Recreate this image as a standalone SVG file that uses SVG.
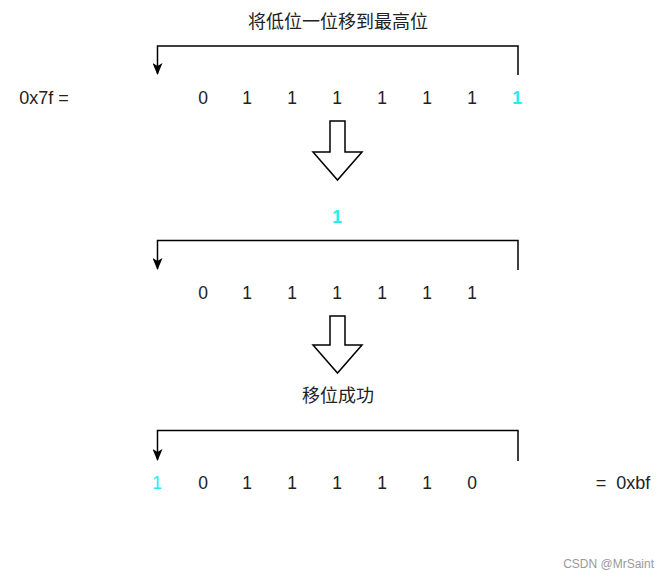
<svg xmlns="http://www.w3.org/2000/svg" width="669" height="579" viewBox="0 0 669 579">
<defs>
<marker id="arr" markerWidth="10" markerHeight="12" refX="5" refY="11" orient="0" markerUnits="userSpaceOnUse">
<path d="M0,0 L5,3 L10,0 L5,12 Z" fill="#000"/>
</marker>
<style>
text{font-family:"Liberation Sans","Noto Sans CJK SC",Arial,sans-serif;font-size:17.5px;fill:#222;text-anchor:middle;dominant-baseline:central}
.t{font-size:18px}
.c{fill:#22EEEE}
.b{font-weight:bold}
.conn{fill:none;stroke:#000;stroke-width:1.5}
.big{fill:#fff;stroke:#000;stroke-width:1.5;stroke-linejoin:miter}
.wm{font-size:12px;fill:#999;text-anchor:end}
</style>
</defs>
<rect width="669" height="579" fill="#fff"/>
<g id="connectors">
<path class="conn" d="M518,75 V46 H157.5 V74" marker-end="url(#arr)"/>
<path class="conn" d="M518,270 V240.5 H157.5 V269" marker-end="url(#arr)"/>
<path class="conn" d="M518,461 V430.5 H157.5 V460" marker-end="url(#arr)"/>
</g>
<g id="arrow1"><path class="big" d="M330,121 H345 V152 H362 L337.5,180 L313,152 H330 Z"/></g>
<g id="arrow2"><path class="big" d="M330,316 H345 V345 H362 L337.5,373 L313,345 H330 Z"/></g>
<g id="title1"><text class="t" x="338" y="22">将低位一位移到最高位</text></g>
<g id="label-0x7f"><text class="t" x="44" y="98">0x7f =</text></g>
<g id="row1">
<text x="203" y="98">0</text><text x="247" y="98">1</text><text x="292" y="98">1</text><text x="337" y="98">1</text><text x="382" y="98">1</text><text x="427" y="98">1</text><text x="472" y="98">1</text><text class="c b" x="517" y="98">1</text>
</g>
<g id="moved"><text class="c b" x="337" y="217">1</text></g>
<g id="row2">
<text x="203" y="293">0</text><text x="247" y="293">1</text><text x="292" y="293">1</text><text x="337" y="293">1</text><text x="382" y="293">1</text><text x="427" y="293">1</text><text x="472" y="293">1</text>
</g>
<g id="title2"><text class="t" x="338" y="396">移位成功</text></g>
<g id="row3">
<text class="c" x="157" y="483">1</text><text x="203" y="483">0</text><text x="247" y="483">1</text><text x="292" y="483">1</text><text x="337" y="483">1</text><text x="382" y="483">1</text><text x="427" y="483">1</text><text x="472" y="483">0</text>
</g>
<g id="label-0xbf"><text class="t" x="623" y="483" xml:space="preserve">=  0xbf</text></g>
<text class="wm" x="654" y="564">CSDN @MrSaint</text>
</svg>
